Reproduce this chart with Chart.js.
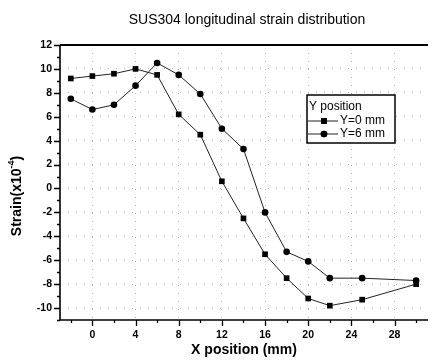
<!DOCTYPE html>
<html>
<head>
<meta charset="utf-8">
<script src="https://cdn.jsdelivr.net/npm/chart.js@4/dist/chart.umd.min.js"></script>
<style>
  html, body { margin: 0; padding: 0; background: #fff; }
  #wrap { width: 432px; height: 364px; }
</style>
</head>
<body>
<div id="wrap"><canvas id="c" width="432" height="364"></canvas></div>
<script>
// ---- data ----
const xPositions = [-2, 0, 2, 4, 6, 8, 10, 12, 14, 16, 18, 20, 22, 25, 30];
const strainY0 = [9.2, 9.4, 9.6, 10.0, 9.5, 6.2, 4.5, 0.6, -2.5, -5.5, -7.5, -9.2, -9.8, -9.3, -8.0];
const strainY6 = [7.5, 6.6, 7.0, 8.6, 10.5, 9.5, 7.9, 5.0, 3.3, -2.0, -5.3, -6.1, -7.5, -7.5, -7.7];
const seriesNames = ['Y=0 mm', 'Y=6 mm'];
const xTicks = [0, 4, 8, 12, 16, 20, 24, 28];
const yTicks = [-10, -8, -6, -4, -2, 0, 2, 4, 6, 8, 10, 12];
const chartTitle = 'SUS304 longitudinal strain distribution';
const xTitle = 'X position (mm)';
const legendTitle = 'Y position';

const FONT = "'Liberation Sans', Arial, sans-serif";

function toPoints(xs, ys) { return xs.map((x, i) => ({ x: x, y: ys[i] })); }

const decor = {
  id: 'decor',
  afterDraw(chart) {
    const ctx = chart.ctx;
    const a = chart.chartArea;
    const xs = chart.scales.x, ys = chart.scales.y;
    ctx.save();
    ctx.strokeStyle = '#000';
    // frame: top, left, bottom
    ctx.lineWidth = 2;
    ctx.beginPath();
    ctx.moveTo(a.left, a.top); ctx.lineTo(a.right, a.top);
    ctx.stroke();
    ctx.lineWidth = 1.6;
    ctx.beginPath();
    ctx.moveTo(a.left, a.top); ctx.lineTo(a.left, a.bottom); ctx.lineTo(a.right, a.bottom);
    ctx.stroke();
    // y ticks
    ctx.lineWidth = 1.3;
    ctx.beginPath();
    for (let v = -11; v <= 12; v++) {
      const p = Math.round(ys.getPixelForValue(v)) + 0.5;
      const len = (v % 2 === 0) ? 6 : 3;
      ctx.moveTo(a.left - len, p); ctx.lineTo(a.left, p);
    }
    // x ticks
    for (let v = -2; v <= 31; v += 2) {
      const p = Math.round(xs.getPixelForValue(v)) + 0.5;
      const len = (v % 4 === 0) ? 6 : 3;
      ctx.moveTo(p, a.bottom); ctx.lineTo(p, a.bottom + len);
    }
    ctx.stroke();

    // title
    ctx.fillStyle = '#000';
    ctx.font = '14px ' + FONT;
    ctx.textAlign = 'center';
    ctx.textBaseline = 'middle';
    ctx.fillText(chartTitle, 247, 20);

    // y axis title with superscript
    ctx.save();
    ctx.translate(17, 196);
    ctx.rotate(-Math.PI / 2);
    ctx.textBaseline = 'middle';
    ctx.textAlign = 'left';
    const mainFont = 'bold 14px ' + FONT, supFont = 'bold 9px ' + FONT;
    ctx.font = mainFont;
    const s1 = 'Strain(x10', s3 = ')';
    ctx.font = supFont; const w2 = ctx.measureText('-4').width;
    ctx.font = mainFont;
    const w1 = ctx.measureText(s1).width, w3 = ctx.measureText(s3).width;
    let x0 = -(w1 + w2 + w3) / 2;
    ctx.fillText(s1, x0, 0);
    ctx.font = supFont; ctx.fillText('-4', x0 + w1, -5);
    ctx.font = mainFont; ctx.fillText(s3, x0 + w1 + w2, 0);
    ctx.restore();

    // legend
    const L = 307, T = 95, R = 395, B = 143;
    ctx.fillStyle = '#fff';
    ctx.fillRect(L, T, R - L, B - T);
    ctx.lineWidth = 1.5;
    ctx.strokeStyle = '#000';
    ctx.strokeRect(L, T, R - L, B - T);
    ctx.fillStyle = '#000';
    ctx.font = '12px ' + FONT;
    ctx.textAlign = 'left';
    ctx.fillText(legendTitle, L + 2, T + 12);
    const rows = [T + 26, T + 39];
    chart.data.datasets.forEach((ds, i) => {
      const yy = rows[i];
      ctx.lineWidth = 1;
      ctx.strokeStyle = '#222';
      ctx.beginPath(); ctx.moveTo(L + 1, yy); ctx.lineTo(L + 31, yy); ctx.stroke();
      Chart.helpers.drawPoint(ctx, { pointStyle: ds.pointStyle, radius: ds.pointRadius, borderWidth: 0 }, L + 17, yy);
      ctx.fillStyle = '#000';
      ctx.fill();
      ctx.fillText(ds.label, L + 33, yy);
    });
    ctx.restore();
  }
};

new Chart(document.getElementById('c'), {
  type: 'scatter',
  data: {
    datasets: [
      { label: seriesNames[0], data: toPoints(xPositions, strainY0), showLine: true,
        borderColor: '#222', borderWidth: 1, backgroundColor: '#000',
        pointStyle: 'rect', pointRadius: 4, pointBorderWidth: 0, pointBackgroundColor: '#000' },
      { label: seriesNames[1], data: toPoints(xPositions, strainY6), showLine: true,
        borderColor: '#222', borderWidth: 1, backgroundColor: '#000',
        pointStyle: 'circle', pointRadius: 3.3, pointBorderWidth: 0, pointBackgroundColor: '#000' }
    ]
  },
  options: {
    responsive: false,
    animation: false,
    devicePixelRatio: 1,
    layout: { padding: { top: 45, right: 0, bottom: 0, left: 0 } },
    plugins: { legend: { display: false }, title: { display: false }, tooltip: { enabled: false } },
    scales: {
      x: {
        type: 'linear', min: -3, max: 31.1,
        afterBuildTicks: s => { s.ticks = xTicks.map(v => ({ value: v })); },
        afterFit: s => { s.height = 44; },
        grid: { color: '#b4b4b4', lineWidth: 1, drawTicks: false },
        border: { display: false, dash: [1, 7] },
        ticks: { color: '#000', padding: 9, font: { family: FONT, size: 10.5, weight: 'bold' }, maxRotation: 0 },
        title: { display: true, text: xTitle, color: '#000', font: { family: FONT, size: 14, weight: 'bold' }, padding: { top: 0, bottom: 5 } }
      },
      y: {
        type: 'linear', min: -11, max: 12,
        afterBuildTicks: s => { s.ticks = yTicks.map(v => ({ value: v })); },
        afterFit: s => { s.width = 60; },
        grid: { color: '#b4b4b4', lineWidth: 1, drawTicks: false },
        border: { display: false, dash: [1, 7] },
        ticks: { color: '#000', padding: 8, font: { family: FONT, size: 10.5, weight: 'bold' } }
      }
    }
  },
  plugins: [decor]
});
</script>
</body>
</html>
